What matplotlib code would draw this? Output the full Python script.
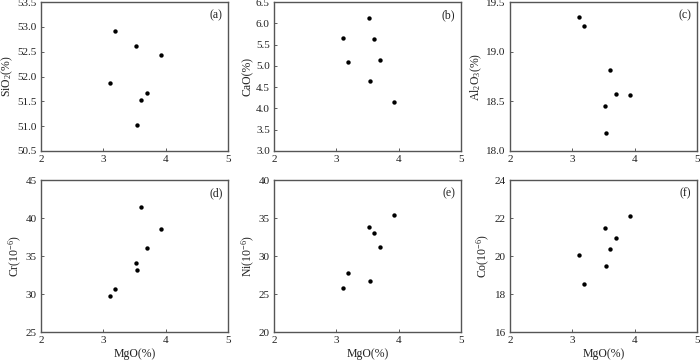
import matplotlib
matplotlib.use("Agg")
import matplotlib.pyplot as plt

plt.rcParams['font.family'] = ['Liberation Serif', 'DejaVu Serif']
plt.rcParams['mathtext.fontset'] = 'custom'
plt.rcParams['mathtext.rm'] = 'Liberation Serif'
plt.rcParams['mathtext.it'] = 'Liberation Serif:italic'
plt.rcParams['mathtext.default'] = 'rm'

# MgO (%) of the seven samples
mgo = [3.10, 3.19, 3.53, 3.54, 3.61, 3.70, 3.93]

sio2 = [51.87, 52.92, 52.61, 51.02, 51.52, 51.67, 52.44]
cao = [5.65, 5.10, 6.12, 4.64, 5.63, 5.13, 4.15]
al2o3 = [19.35, 19.26, 18.45, 18.18, 18.82, 18.57, 18.56]
cr = [29.7, 30.6, 34.1, 33.1, 41.5, 36.0, 38.5]
ni = [25.75, 27.7, 33.76, 26.7, 33.0, 31.2, 35.45]
co = [20.05, 18.55, 21.47, 19.46, 20.36, 20.97, 22.09]

ylabels = ['SiO$_2$(%)', 'CaO(%)', 'Al$_2$O$_3$(%)', 'Cr(10$^{-6}$)', 'Ni(10$^{-6}$)', 'Co(10$^{-6}$)']
tags = ['(a)', '(b)', '(c)', '(d)', '(e)', '(f)']
ylims = [(50.5, 53.5), (3.0, 6.5), (18.0, 19.5), (25, 45), (20, 40), (16, 24)]
yticks = [
    [50.5, 51.0, 51.5, 52.0, 52.5, 53.0, 53.5],
    [3.0, 3.5, 4.0, 4.5, 5.0, 5.5, 6.0, 6.5],
    [18.0, 18.5, 19.0, 19.5],
    [25, 30, 35, 40, 45],
    [20, 25, 30, 35, 40],
    [16, 18, 20, 22, 24],
]
yfmt = ['%.1f', '%.1f', '%.1f', '%d', '%d', '%d']
series = [sio2, cao, al2o3, cr, ni, co]

fig = plt.figure(figsize=(7, 3.62), dpi=100)
lefts = [41 / 700, 274 / 700, 510 / 700]
w = 187 / 700
rows = [(1 - 151 / 362, 149 / 362), (1 - 332 / 362, 152 / 362)]

for i in range(6):
    r, c = divmod(i, 3)
    ax = fig.add_axes([lefts[c], rows[r][0], w, rows[r][1]])
    ax.scatter(mgo, series[i], s=10, color='black', zorder=3, linewidths=0)
    ax.set_xlim(2, 5)
    ax.set_ylim(*ylims[i])
    ax.set_xticks([2, 3, 4, 5])
    ax.set_yticks(yticks[i])
    ax.set_yticklabels([yfmt[i] % v for v in yticks[i]])
    ax.tick_params(direction='in', length=2, width=0.6, colors='#444444',
                   labelsize=8, labelcolor='#222222', pad=3)
    for sp in ax.spines.values():
        sp.set_color('#555555')
        sp.set_linewidth(1.0)
    ax.set_ylabel(ylabels[i], fontsize=8.5, color='#222222', labelpad=1.5)
    if r == 1:
        ax.set_xlabel('MgO(%)', fontsize=8.5, color='#222222', labelpad=2)
    ax.text(0.97, 0.95, tags[i], transform=ax.transAxes, ha='right', va='top',
            fontsize=8.5, color='#222222')

fig.savefig('out.png', dpi=100)
